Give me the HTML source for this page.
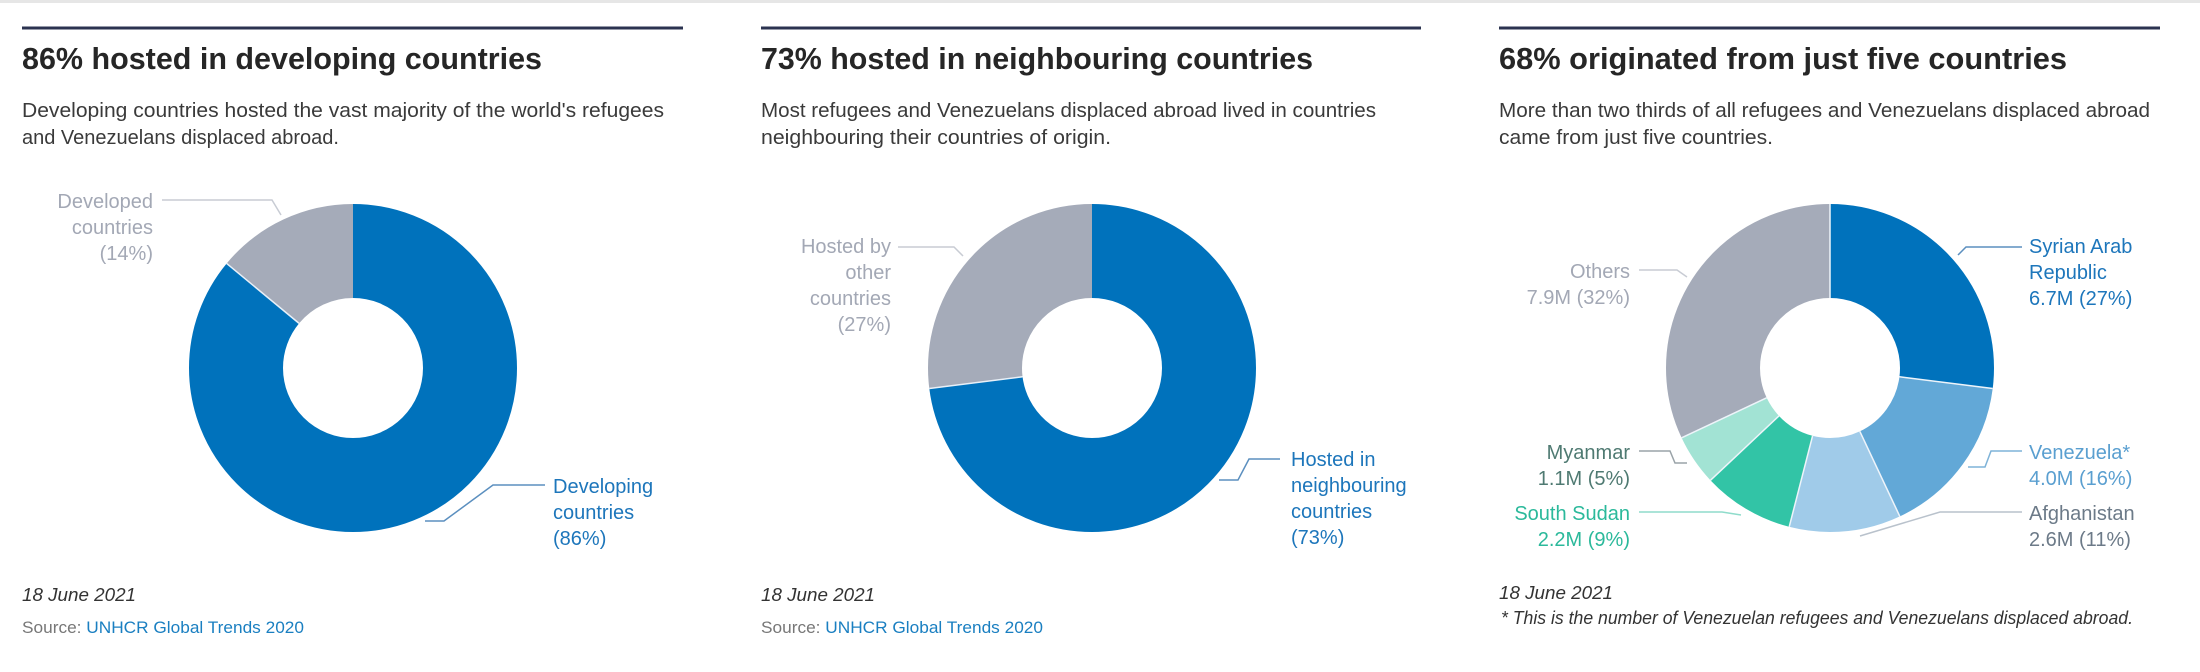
<!DOCTYPE html>
<html><head><meta charset="utf-8"><style>
html,body{margin:0;padding:0;background:#fff;}
svg{display:block;font-family:"Liberation Sans",sans-serif;}
.t{font-size:31px;font-weight:bold;fill:#262626}
.s{font-size:20px;fill:#3a3a3a}
.d{font-size:18px;font-style:italic;fill:#333}
.src{font-size:17px;fill:#777}
.lg{font-size:20px;fill:#a3a8b5}
.lb{font-size:20px;fill:#1d76bb}
.lx{font-size:20px}
.ld{fill:none;stroke-width:1.5}
</style></head><body>
<svg width="2200" height="672" viewBox="0 0 2200 672" xmlns="http://www.w3.org/2000/svg">
<rect x="0" y="0" width="2200" height="3" fill="#e6e6e6"/>
<!-- Panel 1 -->
<line x1="22" y1="28" x2="683" y2="28" stroke="#2b3350" stroke-width="3"/>
<text class="t" x="22" y="69" textLength="520" lengthAdjust="spacingAndGlyphs">86% hosted in developing countries</text>
<text class="s" x="22" y="117" textLength="642" lengthAdjust="spacingAndGlyphs">Developing countries hosted the vast majority of the world's refugees</text>
<text class="s" x="22" y="144" textLength="317" lengthAdjust="spacingAndGlyphs">and Venezuelans displaced abroad.</text>
<g transform="rotate(-90 353 368)">
<circle cx="353" cy="368" r="117" fill="none" stroke="#0072bc" stroke-width="94" stroke-dasharray="632.2 735.13"/>
<circle cx="353" cy="368" r="117" fill="none" stroke="#a5abb9" stroke-width="94" stroke-dasharray="102.9 735.13" stroke-dashoffset="-632.2"/>
</g>
<line x1="353" y1="298" x2="353" y2="204" stroke="#e8f0f8" stroke-width="1.5" transform="rotate(-50.4 353 368)"/>
<polyline class="ld" stroke="#c8ccd4" points="162,200 272,200 281,215"/>
<text class="lg" text-anchor="end" x="153" y="208">Developed</text>
<text class="lg" text-anchor="end" x="153" y="234">countries</text>
<text class="lg" text-anchor="end" x="153" y="260">(14%)</text>
<polyline class="ld" stroke="#5b8fbf" points="545,485 493,485 444,521 425,521"/>
<text class="lb" x="553" y="493">Developing</text>
<text class="lb" x="553" y="519">countries</text>
<text class="lb" x="553" y="545">(86%)</text>
<text class="d" x="22" y="601" textLength="114" lengthAdjust="spacingAndGlyphs">18 June 2021</text>
<text class="src" x="22" y="633" textLength="282" lengthAdjust="spacingAndGlyphs">Source: <tspan fill="#1a7fc1">UNHCR Global Trends 2020</tspan></text>

<!-- Panel 2 -->
<line x1="761" y1="28" x2="1421" y2="28" stroke="#2b3350" stroke-width="3"/>
<text class="t" x="761" y="69" textLength="552" lengthAdjust="spacingAndGlyphs">73% hosted in neighbouring countries</text>
<text class="s" x="761" y="117" textLength="615" lengthAdjust="spacingAndGlyphs">Most refugees and Venezuelans displaced abroad lived in countries</text>
<text class="s" x="761" y="144" textLength="350" lengthAdjust="spacingAndGlyphs">neighbouring their countries of origin.</text>
<g transform="rotate(-90 1092 368)">
<circle cx="1092" cy="368" r="117" fill="none" stroke="#0072bc" stroke-width="94" stroke-dasharray="536.6 735.13"/>
<circle cx="1092" cy="368" r="117" fill="none" stroke="#a5abb9" stroke-width="94" stroke-dasharray="198.5 735.13" stroke-dashoffset="-536.6"/>
</g>
<line x1="1092" y1="298" x2="1092" y2="204" stroke="#e8f0f8" stroke-width="1.5" transform="rotate(-97.2 1092 368)"/>
<polyline class="ld" stroke="#c8ccd4" points="898,247 954,247 963,256"/>
<text class="lg" text-anchor="end" x="891" y="253">Hosted by</text>
<text class="lg" text-anchor="end" x="891" y="279">other</text>
<text class="lg" text-anchor="end" x="891" y="305">countries</text>
<text class="lg" text-anchor="end" x="891" y="331">(27%)</text>
<polyline class="ld" stroke="#5b8fbf" points="1280,459 1249,459 1238,480 1219,480"/>
<text class="lb" x="1291" y="466">Hosted in</text>
<text class="lb" x="1291" y="492">neighbouring</text>
<text class="lb" x="1291" y="518">countries</text>
<text class="lb" x="1291" y="544">(73%)</text>
<text class="d" x="761" y="601" textLength="114" lengthAdjust="spacingAndGlyphs">18 June 2021</text>
<text class="src" x="761" y="633" textLength="282" lengthAdjust="spacingAndGlyphs">Source: <tspan fill="#1a7fc1">UNHCR Global Trends 2020</tspan></text>

<!-- Panel 3 -->
<line x1="1499" y1="28" x2="2160" y2="28" stroke="#2b3350" stroke-width="3"/>
<text class="t" x="1499" y="69" textLength="568" lengthAdjust="spacingAndGlyphs">68% originated from just five countries</text>
<text class="s" x="1499" y="117" textLength="651" lengthAdjust="spacingAndGlyphs">More than two thirds of all refugees and Venezuelans displaced abroad</text>
<text class="s" x="1499" y="144" textLength="274" lengthAdjust="spacingAndGlyphs">came from just five countries.</text>
<g transform="rotate(-90 1830 368)">
<circle cx="1830" cy="368" r="117" fill="none" stroke="#0072bc" stroke-width="94" stroke-dasharray="198.49 735.13"/>
<circle cx="1830" cy="368" r="117" fill="none" stroke="#62a8d7" stroke-width="94" stroke-dasharray="117.62 735.13" stroke-dashoffset="-198.49"/>
<circle cx="1830" cy="368" r="117" fill="none" stroke="#a0cbe9" stroke-width="94" stroke-dasharray="80.86 735.13" stroke-dashoffset="-316.11"/>
<circle cx="1830" cy="368" r="117" fill="none" stroke="#32c4a6" stroke-width="94" stroke-dasharray="66.16 735.13" stroke-dashoffset="-396.97"/>
<circle cx="1830" cy="368" r="117" fill="none" stroke="#a2e3d4" stroke-width="94" stroke-dasharray="36.76 735.13" stroke-dashoffset="-463.13"/>
<circle cx="1830" cy="368" r="117" fill="none" stroke="#a5abb9" stroke-width="94" stroke-dasharray="235.24 735.13" stroke-dashoffset="-499.89"/>
</g>
<g stroke="#eef4fa" stroke-width="1.5">
<line x1="1830" y1="298" x2="1830" y2="204"/>
<line x1="1830" y1="298" x2="1830" y2="204" transform="rotate(97.2 1830 368)"/>
<line x1="1830" y1="298" x2="1830" y2="204" transform="rotate(154.8 1830 368)"/>
<line x1="1830" y1="298" x2="1830" y2="204" transform="rotate(194.4 1830 368)"/>
<line x1="1830" y1="298" x2="1830" y2="204" transform="rotate(226.8 1830 368)"/>
<line x1="1830" y1="298" x2="1830" y2="204" transform="rotate(244.8 1830 368)"/>
</g>
<polyline class="ld" stroke="#5b8fbf" points="2022,247 1966,247 1958,255"/>
<text class="lb" x="2029" y="253">Syrian Arab</text>
<text class="lb" x="2029" y="279">Republic</text>
<text class="lb" x="2029" y="305">6.7M (27%)</text>
<polyline class="ld" stroke="#c8ccd4" points="1639,270 1677,270 1687,277"/>
<text class="lg" text-anchor="end" x="1630" y="278">Others</text>
<text class="lg" text-anchor="end" x="1630" y="304">7.9M (32%)</text>
<polyline class="ld" stroke="#9aa3a8" points="1639,451 1670,451 1675,463 1687,463"/>
<text class="lx" fill="#4f7a72" text-anchor="end" x="1630" y="459">Myanmar</text>
<text class="lx" fill="#4f7a72" text-anchor="end" x="1630" y="485">1.1M (5%)</text>
<polyline class="ld" stroke="#8fdccb" points="1639,512 1722,512 1741,515"/>
<text class="lx" fill="#2bb99b" text-anchor="end" x="1630" y="520">South Sudan</text>
<text class="lx" fill="#2bb99b" text-anchor="end" x="1630" y="546">2.2M (9%)</text>
<polyline class="ld" stroke="#7fb3d8" points="2022,451 1991,451 1985,467 1968,467"/>
<text class="lx" fill="#5a9fd0" x="2029" y="459">Venezuela*</text>
<text class="lx" fill="#5a9fd0" x="2029" y="485">4.0M (16%)</text>
<polyline class="ld" stroke="#b9c2cc" points="2022,512 1940,512 1860,536"/>
<text class="lx" fill="#6c7a88" x="2029" y="520">Afghanistan</text>
<text class="lx" fill="#6c7a88" x="2029" y="546">2.6M (11%)</text>
<text class="d" x="1499" y="599" textLength="114" lengthAdjust="spacingAndGlyphs">18 June 2021</text>
<text class="d" x="1501" y="624" font-size="16" textLength="632" lengthAdjust="spacingAndGlyphs">* This is the number of Venezuelan refugees and Venezuelans displaced abroad.</text>
</svg>
</body></html>
